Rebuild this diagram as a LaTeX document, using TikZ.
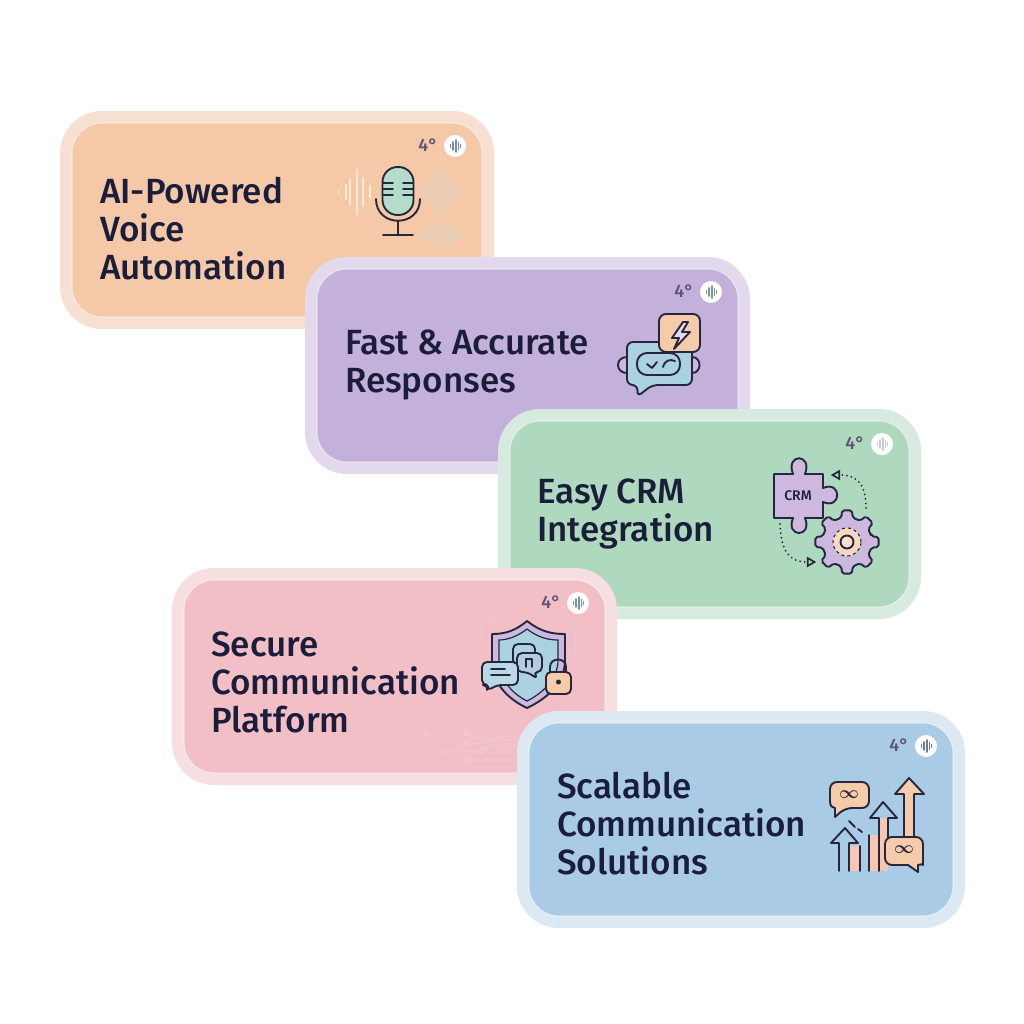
\documentclass[tikz,border=0pt]{standalone}
\usepackage{fontspec}
\usepackage{amsmath}
\usetikzlibrary{shapes.geometric}
\usetikzlibrary{positioning}
\newfontfamily\cardfont{Fira Sans Medium}
\definecolor{inkcolour}{HTML}{1B1E3A}
\definecolor{linecolour}{HTML}{26263F}
\definecolor{degcolour}{HTML}{5A5570}
\definecolor{peach}{HTML}{F5CBAA}
\definecolor{mint}{HTML}{B4DCCB}
\definecolor{skyblue}{HTML}{ABD2E0}
\definecolor{lavender}{HTML}{CDB9E0}
\definecolor{voiceedge}{HTML}{F7E0D1}
\definecolor{voicefill}{HTML}{F5C8A7}
\definecolor{fastedge}{HTML}{E3D9ED}
\definecolor{fastfill}{HTML}{C3B1DC}
\definecolor{crmedge}{HTML}{D7EADF}
\definecolor{crmfill}{HTML}{AFD9BF}
\definecolor{secureedge}{HTML}{F6DFE1}
\definecolor{securefill}{HTML}{F2BFC6}
\definecolor{scaleedge}{HTML}{DDE9F2}
\definecolor{scalefill}{HTML}{A9CBE6}
\definecolor{wavecream}{HTML}{FBE9D8}
\definecolor{wavegrey}{HTML}{D3D6C4}
\definecolor{tracecolour}{HTML}{EBD2CC}
\newcommand\iconwd{1.9pt}
\tikzset{
  cardbox/.style={line width=12pt,rounded corners=36pt,outer sep=0pt,inner sep=0pt},
  cardrim/.style={draw=white,draw opacity=.45,line width=1.2pt,rounded corners=30pt,outer sep=0pt,inner sep=0pt},
  cardlabel/.style={font=\cardfont\fontsize{35}{38}\selectfont,text=inkcolour,align=left,anchor=west,inner sep=0pt},
  deglabel/.style={font=\cardfont\fontsize{18}{18}\selectfont,text=degcolour,inner sep=0pt},
  badge/.style={circle,fill=white,minimum size=22pt,inner sep=0pt},
  iconline/.style={draw=linecolour,line width=\iconwd,line join=round,line cap=round},
  dotline/.style={draw=linecolour,line width=2pt,line cap=round,dash pattern=on 0pt off 4.6pt},
  arrowtri/.style={regular polygon,regular polygon sides=3,draw=linecolour,line width=1.7pt,minimum size=9pt,inner sep=0pt,fill=none},
  faintline/.style={line width=.9pt,line cap=round}
}
% name, centre, inner width and height, border, fill
\newcommand\cardbox[7]{
  \node[cardbox,draw=#6,fill=#7,minimum width=#4pt+12pt,minimum height=#5pt+12pt] (#1) at (#2,#3) {};
  \node[cardrim,minimum width=#4pt,minimum height=#5pt] (#1rim) at (#2,#3) {};
  \node[deglabel] (#1deg) at ([shift={(-60,28)}]#1.north east) {4\textdegree};
  \node[badge] (#1badge) at ([shift={(-33,29)}]#1.north east) {};
}
\newcommand\badgewave[2]{
  \foreach \dx/\hh in {-4.5/1.5,-1.8/4,1/6,3.5/3.5,5.5/1.5}
    \draw[#2,line width=1.9pt,line cap=round] ([shift={(\dx,-\hh)}]#1badge.center) -- ([shift={(\dx,\hh)}]#1badge.center);
}
\newcommand\soundwave[4]{
  \foreach \dx/\hh in {#4}
    \draw[#1,line width=2pt,line cap=round] (#2+\dx,#3-\hh) -- (#2+\dx,#3+\hh);
}
\begin{document}
\begin{tikzpicture}[x=1pt,y=-1pt]
  \useasboundingbox[fill=white] (0,0) rectangle (1024,1024);
  % voice card
  \cardbox{voice}{277}{220}{410}{194}{voiceedge}{voicefill}
  \badgewave{voice}{skyblue!60!linecolour}
  \node[cardlabel] (voicetext) at (100,229) {AI-Powered\\Voice\\Automation};
  \soundwave{wavecream}{339}{192}{0/1,7/7,11/13,18/22,24/14,31/6}
  \soundwave{wavegrey}{423}{192}{0/5,6/12,13/18,19/24,25/14,31/7,37/2}
  \soundwave{wavegrey}{420}{235}{0/1,6/4,11/7,16/10,21/6,26/12,31/9,36/5,41/2}
  \draw[iconline] (376,199) .. controls (376,228) and (420,228) .. (420,199);
  \draw[iconline,fill=mint,rounded corners=15pt] (382.5,167) rectangle (413.5,215);
  \draw[iconline] (383,183) -- (393,183) (403,183) -- (413,183)
    (383,189) -- (393,189) (403,189) -- (413,189)
    (383,195) -- (393,195) (403,195) -- (413,195);
  \draw[iconline] (398,221) -- (398,235) (383,235) -- (413,235);
  % responses card
  \cardbox{fast}{527.5}{365.5}{421}{193}{fastedge}{fastfill}
  \badgewave{fast}{mint!60!linecolour}
  \node[cardlabel] (fasttext) at (345,365) {Fast \& Accurate\\Responses};
  \draw[iconline,fill=lavender] (627,357) .. controls (615,357) and (615,373) .. (627,373);
  \draw[iconline,fill=lavender] (692,357) .. controls (702,357) and (702,373) .. (692,373);
  \draw[iconline,fill=skyblue,rounded corners=6pt] (627,342) -- (692,342) -- (692,385) -- (652,385) -- (637,397) -- (638,385) -- (627,385) -- cycle;
  \draw[iconline,rounded corners=10pt] (637,353) rectangle (680,375);
  \draw[iconline] (647,364) -- (652,368) -- (657,362);
  \draw[iconline] (663,367) .. controls (665,360) and (670,359) .. (675,361);
  \draw[iconline,fill=peach,rounded corners=7pt] (659,314) rectangle (700,352);
  \draw[iconline,fill=lavender!55!white] (683,322) -- (672,338) -- (679,338) -- (674,349) -- (690,332) -- (682,332) -- (688,322) -- cycle;
  % crm card
  \cardbox{crm}{709.5}{514}{399}{186}{crmedge}{crmfill}
  \badgewave{crm}{lavender!70!linecolour!50!white}
  \node[cardlabel] (crmtext) at (537,514) {Easy CRM\\Integration};
  \draw[iconline,fill=lavender] (774,474) -- (793,474) .. controls (785,453) and (813,453) .. (805,474) -- (823,474) -- (823,488) .. controls (842,480) and (842,510) .. (823,502) -- (823,518) -- (805,518) .. controls (813,538) and (785,538) .. (793,518) -- (774,518) -- cycle;
  \node[font=\cardfont\fontsize{14}{14}\selectfont,text=inkcolour,inner sep=0pt] (crmword) at (798,496) {CRM};
  \begin{scope}[shift={(847,542)}]
    \draw[iconline,fill=lavender,rounded corners=2pt] (-13:25) \foreach \a in {0,45,...,315}{ -- (\a-13:25) -- (\a-9:32) -- (\a+9:32) -- (\a+13:25)} -- cycle;
    \node[circle,fill=peach!75!white,draw=linecolour,line width=1.1pt,dashed,minimum size=28pt,inner sep=0pt] (gearhub) at (0,0) {};
    \node[circle,draw=linecolour,fill=peach!60!white,line width=\iconwd,minimum size=13pt,inner sep=0pt] (gearhole) at (0,0) {};
  \end{scope}
  \node[arrowtri,shape border rotate=90] (topend) at (837,475) {};
  \coordinate (gearout) at (866,508);
  \draw[dotline] (gearout) .. controls (866,485) and (858,475) .. (topend);
  \node[arrowtri,shape border rotate=-90] (gearend) at (810,562) {};
  \coordinate (puzzleout) at (780,524);
  \draw[dotline] (puzzleout) .. controls (781,552) and (790,562) .. (gearend);
  % secure card
  \cardbox{secure}{394.5}{676.5}{421}{193}{secureedge}{securefill}
  \badgewave{secure}{mint!60!linecolour}
  \node[cardlabel] (securetext) at (211,682) {Secure\\Communication\\Platform};
  \draw[tracecolour,faintline,dash pattern=on 1.5pt off 2.5pt] (481,640) -- (481,622) -- (503,620) (550,622) -- (575,626) -- (576,660);
  \draw[tracecolour,faintline] (427,733) -- (467,733) -- (474,738) -- (500,738) (462,744) -- (478,744) -- (484,740) -- (522,740)
    (445,751) -- (480,751) -- (490,746) -- (520,746) (465,760) -- (515,760);
  \foreach \cx/\cy in {427/733,467/733,464/744,500/738,446/751,482/751,465/760}
    \draw[tracecolour,faintline,fill=securefill] (\cx,\cy) circle[radius=2.5];
  \draw[iconline,fill=lavender] (527,621) .. controls (515,631) and (505,634) .. (492,634) -- (492,660) .. controls (492,685) and (510,700) .. (527,708) .. controls (544,700) and (565,685) .. (565,660) -- (565,634) .. controls (550,634) and (540,631) .. (527,621) -- cycle;
  \draw[draw=linecolour,line width=1.2pt,fill=skyblue] (527,629) .. controls (518,636) and (508,640) .. (499,640) -- (499,660) .. controls (499,680) and (513,694) .. (527,701) .. controls (541,694) and (558,680) .. (558,660) -- (558,640) .. controls (546,640) and (536,636) .. (527,629) -- cycle;
  \draw[iconline,fill=skyblue,rounded corners=5pt] (513,644) rectangle (535,665);
  \draw[iconline,fill=skyblue!80!lavender,rounded corners=5pt] (517,653) -- (542,653) -- (542,672) -- (533,672) -- (538,679) -- (527,672) -- (517,672) -- cycle;
  \draw[iconline] (526,667) -- (526,659) -- (532,659) -- (532,667);
  \draw[iconline,fill=skyblue!85!white,rounded corners=5pt] (482,662) -- (518,662) -- (518,685) -- (497,685) -- (487,691) -- (488,685) -- (482,685) -- cycle;
  \draw[iconline] (491,669) -- (505,669) (491,675) -- (510,675);
  \draw[iconline] (550,673) -- (550,667) .. controls (550,657) and (566,657) .. (566,667) -- (566,673);
  \draw[iconline,fill=peach,rounded corners=5pt] (546,672) rectangle (571,694);
  \node[circle,fill=linecolour,minimum size=5pt,inner sep=0pt] (lockhole) at (558.5,682) {};
  % scalable card
  \cardbox{scale}{741}{819.5}{424}{193}{scaleedge}{scalefill}
  \badgewave{scale}{linecolour!50!skyblue}
  \node[cardlabel] (scaletext) at (557,824) {Scalable\\Communication\\Solutions};
  \draw[iconline,fill=peach] (904,840) -- (904,794) -- (895,794) -- (909,778) -- (924,794) -- (914,794) -- (914,840) -- cycle;
  \fill[peach!70!pink] (879,818) rectangle (888,871);
  \fill[peach!70!pink] (870,835) rectangle (879,871);
  \draw[iconline] (879,871) -- (879,818) -- (870,818) -- (883,802) -- (897,818) -- (888,818) -- (888,840);
  \draw[iconline] (869,871) -- (869,835);
  \fill[pink!60!peach] (849,846) rectangle (860,871);
  \draw[iconline] (839,871) -- (839,843) -- (831,843) -- (845,828) -- (858,843) -- (849,843) -- (849,871) (860,846) -- (860,871);
  \draw[iconline] (849,821) -- (855,827) (858,829) -- (862,832);
  \draw[iconline,fill=peach,rounded corners=7pt] (830,795) -- (830,782) -- (869,782) -- (869,808) -- (845,808) [sharp corners] -- (835,817) -- (835,808) .. controls (832,808) and (830,806) .. (830,801) -- cycle;
  \node[font=\fontsize{17}{17}\selectfont,text=linecolour,inner sep=0pt] (infinitytop) at (849,795) {$\boldsymbol{\infty}$};
  \draw[iconline,fill=peach,rounded corners=7pt] (885,851) -- (885,837) -- (923,837) -- (923,858) [sharp corners] .. controls (923,863) and (921,865) .. (918,865) -- (918,872) -- (908,865) [rounded corners=7pt] -- (885,865) -- cycle;
  \node[font=\fontsize{17}{17}\selectfont,text=linecolour,inner sep=0pt] (infinitylow) at (904,850) {$\boldsymbol{\infty}$};
\end{tikzpicture}
\end{document}
